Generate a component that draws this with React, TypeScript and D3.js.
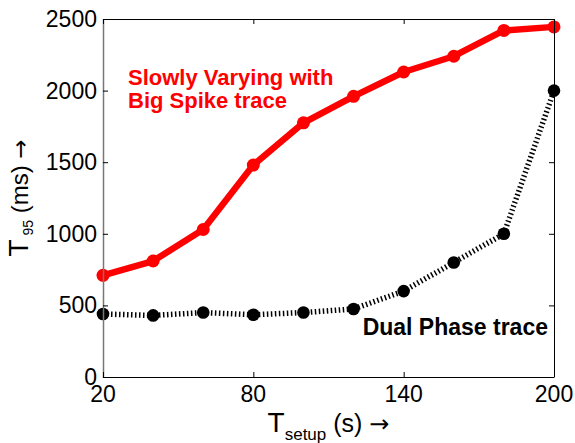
import React from "react";
import * as d3 from "d3";

const setupTimes = [20, 40, 60, 80, 100, 120, 140, 160, 180, 200];
const spikeTrace = [710, 810, 1030, 1480, 1775, 1960, 2130, 2240, 2420, 2445];
const dualPhaseTrace = [440, 430, 450, 435, 450, 475, 600, 800, 1000, 2000];
const xTicks = [20, 80, 140, 200];
const yTicks = [0, 500, 1000, 1500, 2000, 2500];

const W = 575;
const H = 443;
const M = { left: 103, right: 554, top: 19, bottom: 377 };

export default function App() {
  const x = d3.scaleLinear().domain([20, 200]).range([M.left, M.right]);
  const y = d3.scaleLinear().domain([0, 2500]).range([M.bottom, M.top]);
  const line = d3
    .line<[number, number]>()
    .x((d) => x(d[0]))
    .y((d) => y(d[1]));
  const red = setupTimes.map((t, i) => [t, spikeTrace[i]] as [number, number]);
  const blk = setupTimes.map((t, i) => [t, dualPhaseTrace[i]] as [number, number]);
  const font = "Arial, 'Liberation Sans', sans-serif";
  const arrowFont = "'DejaVu Sans', sans-serif";
  const cx = (M.left + M.right) / 2;
  const cy = (M.top + M.bottom) / 2;

  return (
    <svg
      width={W}
      height={H}
      style={{ position: "absolute", left: 0, top: 0, background: "#fff" }}
      fontFamily={font}
    >
      {/* black dotted series */}
      <path
        d={line(blk) || ""}
        fill="none"
        stroke="#000"
        strokeWidth={5.5}
        strokeDasharray="1.5,2.5"
      />
      {blk.map((d, i) => (
        <circle key={"b" + i} cx={x(d[0])} cy={y(d[1])} r={6.3} fill="#000" />
      ))}
      {/* red series */}
      <path
        d={line(red) || ""}
        fill="none"
        stroke="#ff0000"
        strokeWidth={6.5}
        strokeLinejoin="round"
      />
      {red.map((d, i) => (
        <circle key={"r" + i} cx={x(d[0])} cy={y(d[1])} r={6.5} fill="#ff0000" />
      ))}

      {/* axes box */}
      <line x1={M.left} x2={M.right} y1={M.top + 0.5} y2={M.top + 0.5} stroke="#000" />
      <line x1={M.left} x2={M.right + 0.5} y1={M.bottom + 0.5} y2={M.bottom + 0.5} stroke="#000" />
      <line x1={M.right + 0.5} x2={M.right + 0.5} y1={M.top} y2={M.bottom} stroke="#000" />
      <line x1={M.left + 0.5} x2={M.left + 0.5} y1={M.top} y2={M.bottom + 1} stroke="#777" strokeWidth={1.5} />

      {/* x ticks */}
      {xTicks.map((t) => (
        <g key={"xt" + t}>
          <line x1={x(t) + 0.5} x2={x(t) + 0.5} y1={M.bottom} y2={M.bottom - 5} stroke="#000" />
          <line x1={x(t) + 0.5} x2={x(t) + 0.5} y1={M.top} y2={M.top + 5} stroke="#000" />
          <text x={x(t)} y={402} fontSize={23} textAnchor="middle" fill="#000">
            {t}
          </text>
        </g>
      ))}
      {/* y ticks */}
      {yTicks.map((t) => (
        <g key={"yt" + t}>
          <line x1={M.left} x2={M.left + 5} y1={y(t) + 0.5} y2={y(t) + 0.5} stroke="#000" />
          <line x1={M.right} x2={M.right - 5} y1={y(t) + 0.5} y2={y(t) + 0.5} stroke="#000" />
          <text x={97} y={y(t) + 8} fontSize={23} textAnchor="end" fill="#000">
            {t}
          </text>
        </g>
      ))}

      {/* x label */}
      <text x={cx} y={432} textAnchor="middle" fill="#000" fontSize={25}>
        <tspan fontSize={28}>T</tspan>
        <tspan fontSize={17} dy={8}>setup</tspan>
        <tspan dy={-8}> (s) </tspan>
        <tspan fontFamily={arrowFont} fontSize={24}>→</tspan>
      </text>

      {/* y label */}
      <text
        transform={`translate(28,${cy}) rotate(-90)`}
        textAnchor="middle"
        fill="#000"
        fontSize={24}
      >
        <tspan fontSize={28}>T</tspan>
        <tspan fontSize={14} dy={5}> 95</tspan>
        <tspan dy={-5}> (ms) </tspan>
        <tspan fontFamily={arrowFont} fontSize={23}>→</tspan>
      </text>

      {/* annotations */}
      <text x={128} y={85} fontSize={22} fontWeight="bold" fill="#ff0000">
        Slowly Varying with
      </text>
      <text x={128} y={108} fontSize={22} fontWeight="bold" fill="#ff0000">
        Big Spike trace
      </text>
      <text x={548} y={335} fontSize={23} fontWeight="bold" fill="#000" textAnchor="end">
        Dual Phase trace
      </text>
    </svg>
  );
}
